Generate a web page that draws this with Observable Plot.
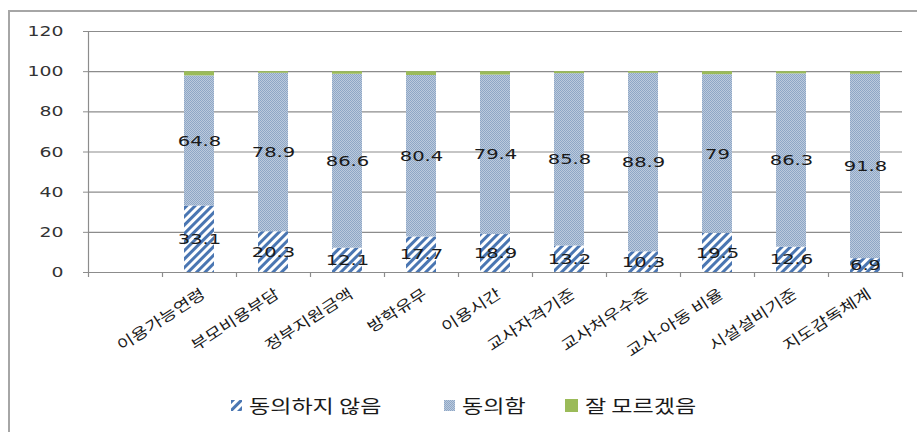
<!DOCTYPE html>
<html>
<head>
<meta charset="utf-8">
<script src="https://cdn.jsdelivr.net/npm/d3@7"></script>
<script src="https://cdn.jsdelivr.net/npm/@observablehq/plot@0.6"></script>
<style>
  html, body { margin: 0; padding: 0; background: #fff; }
  body { width: 917px; height: 432px; position: relative; overflow: hidden; font-family: "DejaVu Sans", "Noto Sans CJK KR", sans-serif; }
  #frame { position: absolute; left: 8px; top: 10px; width: 920px; height: 430px; border-top: 2px solid #a6a6a6; border-left: 2px solid #a6a6a6; pointer-events: none; z-index: 2; }
  #chart { position: absolute; left: 0; top: 0; }
  #legend { position: absolute; left: 0; top: 392px; width: 917px; height: 26px; font-family: "Noto Sans CJK KR", sans-serif; font-size: 18px; color: #1a1a1a; }
  .item { position: absolute; top: 0; display: flex; align-items: center; height: 26px; white-space: pre; }
  .item svg { margin-right: 7px; }
  .item span { display: inline-block; transform: scaleX(1.28); transform-origin: 0 50%; }
</style>
</head>
<body>
<svg width="0" height="0" style="position:absolute">
  <defs>
    <pattern id="hatch" patternUnits="userSpaceOnUse" width="6" height="6" patternTransform="rotate(45)">
      <rect width="6" height="6" fill="#ffffff"></rect>
      <rect width="3" height="6" fill="#4a76b2"></rect>
    </pattern>
    <pattern id="dots" patternUnits="userSpaceOnUse" width="2" height="2">
      <rect width="2" height="2" fill="#bccadd"></rect>
      <rect width="1" height="1" fill="#8ea7c6"></rect>
      <rect x="1" y="1" width="1" height="1" fill="#8ea7c6"></rect>
    </pattern>
  </defs>
</svg>
<div id="frame"></div>
<div id="chart"></div>
<div id="legend"></div>
<script>
const categories = ["이용가능연령","부모비용부담","정부지원금액","방학유무","이용시간","교사자격기준","교사처우수준","교사-아동 비율","시설설비기준","지도감독체계"];
const disagree = [33.1,20.3,12.1,17.7,18.9,13.2,10.3,19.5,12.6,6.9];
const agree = [64.8,78.9,86.6,80.4,79.4,85.8,88.9,79,86.3,91.8];
const unsure = [2.1,0.8,1.3,1.9,1.7,1.0,0.8,1.5,1.1,1.3];
const series = ["동의하지 않음","동의함","잘 모르겠음"];
const seriesFills = ["url(#hatch)","url(#dots)","#9bbb59"];
const yTicks = [0,20,40,60,80,100,120];

const blank = " ";
const xDomain = [blank, ...categories];
const valuesBySeries = [disagree, agree, unsure];
const rows = [];
series.forEach((s, si) => {
  categories.forEach((c, ci) => rows.push({category: c, series: s, value: valuesBySeries[si][ci]}));
});
const labelRows = rows.filter(d => d.series !== series[2]);

const W = 917, H = 385, ML = 88, MR = 15;
const step = (W - ML - MR) / xDomain.length;
const barInset = (step - 30) / 2;
const gridColor = "#8c8c8c";

const chart = Plot.plot({
  width: W,
  height: H,
  marginLeft: ML,
  marginRight: MR,
  marginTop: 31,
  marginBottom: 113,
  style: {background: "transparent", fontFamily: "'DejaVu Sans', 'Noto Sans CJK KR', sans-serif", color: "#222"},
  x: {domain: xDomain, padding: 0, label: null},
  y: {domain: [0, 120], label: null},
  color: {domain: series, range: seriesFills},
  marks: [
    Plot.gridY(yTicks, {stroke: gridColor, strokeOpacity: 1, strokeWidth: 1.2}),
    Plot.barY(rows, Plot.stackY({x: "category", y: "value", fill: "series", z: "series", insetLeft: barInset, insetRight: barInset})),
    Plot.text(labelRows, Plot.stackY({x: "category", y: "value", z: "series", text: d => String(d.value), fontSize: 14.5, fill: "#1a1a1a"})),
    Plot.ruleY([0], {stroke: gridColor, strokeWidth: 1.2}),
    Plot.ruleX([blank], {x: d => d, y1: 0, y2: 120, dx: -step / 2, stroke: gridColor, strokeWidth: 1.2}),
    Plot.ruleX(xDomain, {x: d => d, y1: 0, y2: -2.5, dx: -step / 2, stroke: gridColor, strokeWidth: 1.2}),
    Plot.ruleX([categories[categories.length - 1]], {x: d => d, y1: 0, y2: -2.5, dx: step / 2, stroke: gridColor, strokeWidth: 1.2}),
    Plot.axisY(yTicks, {tickSize: 5, tickPadding: 20, fontSize: 14.5, stroke: gridColor, fill: "#333"}),
    Plot.axisX({tickSize: 0, tickPadding: 20, tickRotate: -33, fontSize: 15, fill: "#1a1a1a", fontFamily: "'Noto Sans CJK KR', sans-serif", dx: 4})
  ]
});
document.getElementById("chart").appendChild(chart);

function stretch(sel, s) {
  chart.querySelectorAll(sel + " text").forEach(t => {
    const w = t.getComputedTextLength();
    if (w > 0) {
      t.setAttribute("textLength", (w * s).toFixed(2));
      t.setAttribute("lengthAdjust", "spacingAndGlyphs");
    }
  });
}
stretch('g[aria-label="text"]', 1.35);
stretch('g[aria-label="y-axis tick label"]', 1.3);
stretch('g[aria-label="x-axis tick label"]', 1.22);

// legend
const legendPos = [231, 444, 565];
const legend = document.getElementById("legend");
series.forEach((s, i) => {
  const item = document.createElement("div");
  item.className = "item";
  item.style.left = legendPos[i] + "px";
  const sw = i === 2 ? 13 : 11;
  item.innerHTML = `<svg width="${sw}" height="${sw}"><rect width="${sw}" height="${sw}" fill="${seriesFills[i]}"></rect></svg><span>${s}</span>`;
  legend.appendChild(item);
});
</script>
</body>
</html>
